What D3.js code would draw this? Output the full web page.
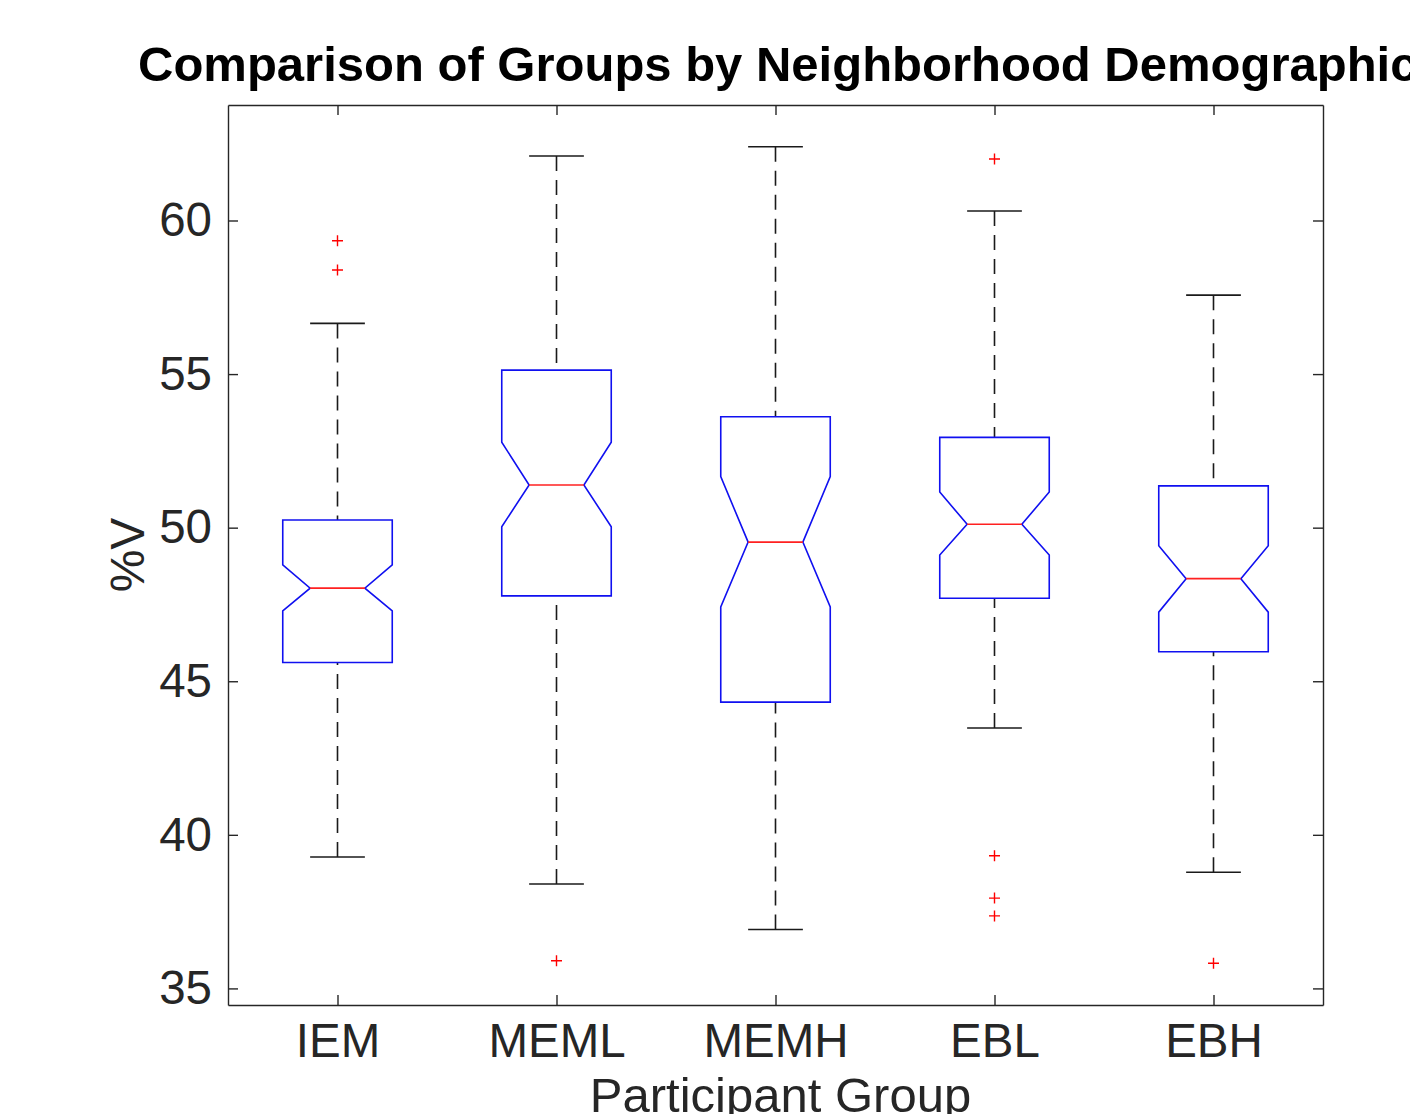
<!DOCTYPE html>
<html>
<head>
<meta charset="utf-8">
<script src="https://unpkg.com/d3@7/dist/d3.min.js"></script>
<style>
  body { margin: 0; background: #fff; }
  svg { display: block; font-family: Helvetica, Arial, "Liberation Sans", sans-serif; }
</style>
</head>
<body>
<div class="chart"></div>
<script>
// values (%V per participant group)
const groups = ["IEM", "MEML", "MEMH", "EBL", "EBH"];
const upperWhisker = [56.65, 62.10, 62.40, 60.31, 57.57];
const q3 = [50.25, 55.13, 53.61, 52.94, 51.36];
const notchHi = [48.79, 52.78, 51.66, 51.16, 49.41];
const median = [48.03, 51.39, 49.53, 50.11, 48.34];
const notchLo = [47.29, 50.03, 47.42, 49.11, 47.25];
const q1 = [45.61, 47.78, 44.32, 47.70, 45.96];
const lowerWhisker = [39.28, 38.40, 36.92, 43.48, 38.78];
const outliers = [[59.34, 58.39], [35.90], [], [62.00, 39.32, 37.94, 37.36], [35.82]];
const yTicks = [35, 40, 45, 50, 55, 60];

const W = 1410, H = 1114;
const margin = { top: 105, right: 87, bottom: 109, left: 228 };
const width = W - margin.left - margin.right,
  height = H - margin.top - margin.bottom;

const svg = d3.select(".chart").append("svg")
  .attr("width", W)
  .attr("height", H);

const g = svg.append("g")
  .attr("transform", "translate(" + margin.left + "," + margin.top + ")");

const xScale = d3.scalePoint().domain(groups).range([0, width]).padding(0.5);
const yScale = d3.scaleLinear().domain([34.46, 63.76]).range([height, 0]);
const boxW = xScale.step() * 0.5;

const axisColor = "#262626";

// axes - ticks point inward, box on all four sides
g.append("g").attr("class", "axis y-axis")
  .call(d3.axisLeft(yScale).tickValues(yTicks).tickSizeInner(-10).tickSizeOuter(0).tickPadding(16));
g.append("g").attr("class", "axis y-right")
  .attr("transform", `translate(${width},0)`)
  .call(d3.axisRight(yScale).tickValues(yTicks).tickSizeInner(-10).tickSizeOuter(0).tickFormat(""));
g.append("g").attr("class", "axis x-axis")
  .attr("transform", `translate(0,${height})`)
  .call(d3.axisBottom(xScale).tickSizeInner(-10).tickSizeOuter(0).tickPadding(18));
g.append("g").attr("class", "axis x-top")
  .call(d3.axisTop(xScale).tickSizeInner(-10).tickSizeOuter(0).tickFormat(""));

g.selectAll(".axis path, .axis line")
  .attr("stroke", axisColor)
  .attr("stroke-width", 1.4);
g.selectAll(".axis text")
  .attr("fill", axisColor)
  .attr("font-size", "47.5px")
  .attr("font-family", "Helvetica, Arial, 'Liberation Sans', sans-serif");

const data = groups.map((name, i) => ({
  name, hi: upperWhisker[i], q3: q3[i], nHi: notchHi[i], med: median[i],
  nLo: notchLo[i], q1: q1[i], lo: lowerWhisker[i], out: outliers[i]
}));

const boxes = g.selectAll(".box").data(data).join("g").attr("class", "box");

// whiskers (dashed) and caps
boxes.append("line")
  .attr("x1", d => xScale(d.name)).attr("x2", d => xScale(d.name))
  .attr("y1", d => yScale(d.hi)).attr("y2", d => yScale(d.q3))
  .attr("stroke", "#1a1a1a").attr("stroke-width", 1.6).attr("stroke-dasharray", "15,9");
boxes.append("line")
  .attr("x1", d => xScale(d.name)).attr("x2", d => xScale(d.name))
  .attr("y1", d => yScale(d.lo)).attr("y2", d => yScale(d.q1))
  .attr("stroke", "#1a1a1a").attr("stroke-width", 1.6).attr("stroke-dasharray", "15,9");
boxes.append("line")
  .attr("x1", d => xScale(d.name) - boxW / 4).attr("x2", d => xScale(d.name) + boxW / 4)
  .attr("y1", d => yScale(d.hi)).attr("y2", d => yScale(d.hi))
  .attr("stroke", "#1a1a1a").attr("stroke-width", 1.6);
boxes.append("line")
  .attr("x1", d => xScale(d.name) - boxW / 4).attr("x2", d => xScale(d.name) + boxW / 4)
  .attr("y1", d => yScale(d.lo)).attr("y2", d => yScale(d.lo))
  .attr("stroke", "#1a1a1a").attr("stroke-width", 1.6);

// notched box outline
boxes.append("path")
  .attr("d", d => {
    const c = xScale(d.name), l = c - boxW / 2, r = c + boxW / 2;
    const il = c - boxW / 4, ir = c + boxW / 4;
    return d3.line()([
      [l, yScale(d.q3)], [r, yScale(d.q3)], [r, yScale(d.nHi)], [ir, yScale(d.med)],
      [r, yScale(d.nLo)], [r, yScale(d.q1)], [l, yScale(d.q1)], [l, yScale(d.nLo)],
      [il, yScale(d.med)], [l, yScale(d.nHi)]
    ]) + "Z";
  })
  .attr("fill", "none")
  .attr("stroke", "#1010f0")
  .attr("stroke-width", 1.6);

// median
boxes.append("line")
  .attr("x1", d => xScale(d.name) - boxW / 4).attr("x2", d => xScale(d.name) + boxW / 4)
  .attr("y1", d => yScale(d.med)).attr("y2", d => yScale(d.med))
  .attr("stroke", "#ff2020").attr("stroke-width", 1.6);

// outliers as red plus signs
boxes.selectAll(".outlier")
  .data(d => d.out.map(v => ({ name: d.name, v })))
  .join("path")
  .attr("class", "outlier")
  .attr("d", d => {
    const x = xScale(d.name), y = yScale(d.v);
    return `M${x - 5.5},${y}H${x + 5.5}M${x},${y - 5.5}V${y + 5.5}`;
  })
  .attr("stroke", "#ff0000")
  .attr("stroke-width", 1.4)
  .attr("fill", "none");

// labels
svg.append("text")
  .attr("class", "title")
  .attr("x", 138)
  .attr("y", 81)
  .attr("font-size", "49px")
  .attr("font-weight", "bold")
  .attr("fill", "#000")
  .text("Comparison of Groups by Neighborhood Demographic");

svg.append("text")
  .attr("class", "x-axis-title")
  .attr("text-anchor", "middle")
  .attr("x", margin.left + width / 2 + 5)
  .attr("y", 1112)
  .attr("font-size", "49px")
  .attr("fill", axisColor)
  .text("Participant Group");

svg.append("text")
  .attr("class", "y-axis-title")
  .attr("text-anchor", "middle")
  .attr("transform", `translate(144,${margin.top + height / 2}) rotate(-90)`)
  .attr("font-size", "48px")
  .attr("fill", axisColor)
  .text("%V");
</script>
</body>
</html>
